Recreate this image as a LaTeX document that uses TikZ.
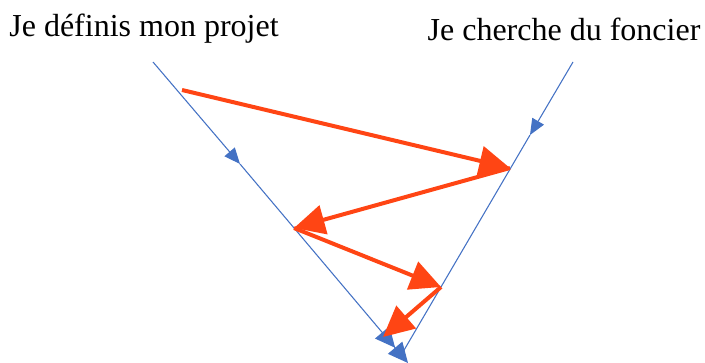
\documentclass[tikz,border=0pt]{standalone}
\usepackage{fontspec}
\setmainfont{Liberation Serif}
\usetikzlibrary{arrows.meta}

\definecolor{lineblue}{RGB}{68,114,196}
\definecolor{steporange}{RGB}{255,69,20}

\tikzset{
	track/.style={color=lineblue, line width=0.8pt},
	trackarrow/.style={track, -{Triangle[length=12pt,width=10pt]}},
	jump/.style={color=steporange, line width=3pt, -{Triangle[length=23pt,width=22pt]}},
	title/.style={font=\fontsize{24}{28}\selectfont}
}

\begin{document}
\begin{tikzpicture}[x=0.75pt, y=-0.75pt]
	\useasboundingbox (0,0) rectangle (705,363);

	\node[title] (projet)  at (144,29) {Je définis mon projet};
	\node[title] (foncier) at (564,29) {Je cherche du foncier};

	\coordinate (l0) at (153,62);
	\coordinate (l1) at (240,164);
	\coordinate (l2) at (408,363);
	\coordinate (r0) at (573,62);
	\coordinate (r1) at (530,135);
	\coordinate (r2) at (400,357);

	\draw[trackarrow] (l0) -- (l1);
	\draw[track, -{Triangle[length=15pt,width=14pt] Triangle[length=15pt,width=14pt]}] (l1) -- (l2);
	\draw[trackarrow] (r0) -- (r1);
	\draw[track] (r1) -- (r2);

	\coordinate (a) at (182,90);
	\coordinate (b) at (510,168);
	\coordinate (c) at (294,228);
	\coordinate (d) at (441,287);
	\coordinate (e) at (383,337);

	\draw[jump] (a) -- (b);
	\draw[jump] (b) -- (c);
	\draw[jump] (c) -- (d);
	\draw[jump] (d) -- (e);

\end{tikzpicture}
\end{document}
